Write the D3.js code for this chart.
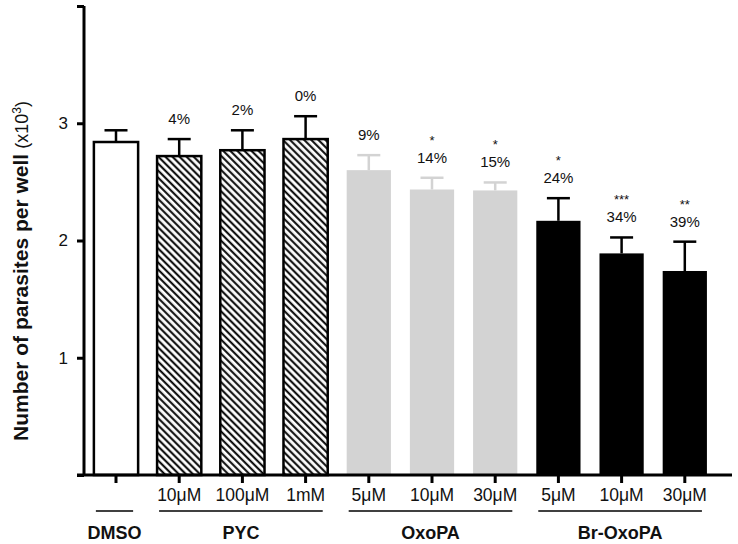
<!DOCTYPE html>
<html>
<head>
<meta charset="utf-8">
<script src="https://cdn.jsdelivr.net/npm/d3@7"></script>
<style>
  body { margin: 0; background: #fff; }
  text { font-family: "Liberation Sans", Arial, Helvetica, sans-serif; }
</style>
</head>
<body>
<div id="chart"></div>
<script>
// data
var categories = ['DMSO', 'PYC 10', 'PYC 100', 'PYC 1m', 'OxoPA 5', 'OxoPA 10', 'OxoPA 30', 'Br 5', 'Br 10', 'Br 30'];
var concLabels = ['', '10\u03bcM', '100\u03bcM', '1mM', '5\u03bcM', '10\u03bcM', '30\u03bcM', '5\u03bcM', '10\u03bcM', '30\u03bcM'];
var means = [2.84, 2.72, 2.77, 2.865, 2.60, 2.435, 2.427, 2.168, 1.89, 1.74];
var sems = [0.10, 0.145, 0.17, 0.195, 0.128, 0.10, 0.068, 0.193, 0.136, 0.25];
var pctLabels = ['', '4%', '2%', '0%', '9%', '14%', '15%', '24%', '34%', '39%'];
var stars = ['', '', '', '', '', '*', '*', '*', '***', '**'];
var styles = ['open', 'hatch', 'hatch', 'hatch', 'grey', 'grey', 'grey', 'black', 'black', 'black'];
var groupNames = ['DMSO', 'PYC', 'OxoPA', 'Br-OxoPA'];
var groupSizes = [1, 3, 3, 3];
var yTicks = [0, 1, 2, 3, 4];

var width = 738, height = 544;
var grey = '#d3d3d3';

var svg = d3.select('#chart')
    .append('svg')
    .attr('width', width)
    .attr('height', height);

var defs = svg.append('defs');
var pat = defs.append('pattern')
    .attr('id', 'hatch')
    .attr('patternUnits', 'userSpaceOnUse')
    .attr('width', 5)
    .attr('height', 5)
    .attr('patternTransform', 'rotate(-45)');
pat.append('rect').attr('width', 5).attr('height', 5).attr('fill', '#fff');
pat.append('line')
    .attr('x1', 1.2).attr('y1', 0).attr('x2', 1.2).attr('y2', 5)
    .attr('stroke', '#000').attr('stroke-width', 2);

var x = d3.scaleBand()
    .domain(categories)
    .range([84.4, 716.4])
    .paddingInner(0.3)
    .paddingOuter(0.15);

var y = d3.scaleLinear()
    .domain([0, 4])
    .range([475, 6]);

function fillOf(s) {
    if (s === 'open') return '#fff';
    if (s === 'hatch') return 'url(#hatch)';
    if (s === 'grey') return grey;
    return '#000';
}
function lineOf(s) { return s === 'grey' ? grey : '#000'; }

var rows = categories.map(function (c, i) {
    return { cat: c, mean: means[i], sem: sems[i], style: styles[i], pct: pctLabels[i], star: stars[i], conc: concLabels[i] };
});

// error bars (upper only)
var eb = svg.append('g').selectAll('g')
    .data(rows)
    .enter()
    .append('g')
    .attr('stroke', function (d) { return lineOf(d.style); })
    .attr('stroke-width', 2.5);
eb.append('line')
    .attr('x1', function (d) { return x(d.cat) + x.bandwidth() / 2; })
    .attr('x2', function (d) { return x(d.cat) + x.bandwidth() / 2; })
    .attr('y1', function (d) { return y(d.mean); })
    .attr('y2', function (d) { return y(d.mean + d.sem); });
eb.append('line')
    .attr('x1', function (d) { return x(d.cat) + x.bandwidth() / 2 - 11.5; })
    .attr('x2', function (d) { return x(d.cat) + x.bandwidth() / 2 + 11.5; })
    .attr('y1', function (d) { return y(d.mean + d.sem); })
    .attr('y2', function (d) { return y(d.mean + d.sem); });

// bars
svg.append('g')
    .selectAll('rect')
    .data(rows)
    .enter()
    .append('rect')
    .attr('x', function (d) { return x(d.cat); })
    .attr('y', function (d) { return y(d.mean); })
    .attr('width', x.bandwidth())
    .attr('height', function (d) { return y(0) - y(d.mean); })
    .attr('fill', function (d) { return fillOf(d.style); })
    .attr('stroke', function (d) { return (d.style === 'open' || d.style === 'hatch') ? '#000' : 'none'; })
    .attr('stroke-width', 2.5);

// percent labels and stars
var lab = svg.append('g').attr('text-anchor', 'middle').attr('fill', '#111');
lab.selectAll('text.pct')
    .data(rows)
    .enter()
    .append('text')
    .attr('class', 'pct')
    .attr('x', function (d) { return x(d.cat) + x.bandwidth() / 2; })
    .attr('y', function (d) { return y(d.mean + d.sem) - 15; })
    .attr('font-size', 15)
    .text(function (d) { return d.pct; });
lab.selectAll('text.star')
    .data(rows)
    .enter()
    .append('text')
    .attr('class', 'star')
    .attr('x', function (d) { return x(d.cat) + x.bandwidth() / 2; })
    .attr('y', function (d) { return y(d.mean + d.sem) - 33; })
    .attr('font-size', 13)
    .text(function (d) { return d.star; });

// y axis
var yAxis = svg.append('g')
    .attr('transform', 'translate(84,0)')
    .call(d3.axisLeft(y)
        .tickValues(yTicks)
        .tickSize(7)
        .tickFormat(function (d) { return (d >= 1 && d <= 3) ? d : ''; }));
yAxis.select('.domain').attr('stroke', '#000').attr('stroke-width', 3).attr('d', 'M0,' + y(4) + 'V' + y(0));
yAxis.selectAll('.tick line').attr('stroke', '#000').attr('stroke-width', 3);
yAxis.selectAll('.tick text')
    .attr('font-size', 17)
    .attr('font-family', '"Liberation Sans", Arial, sans-serif')
    .attr('fill', '#111')
    .attr('x', -16);

// x axis
var xAxis = svg.append('g')
    .attr('transform', 'translate(0,' + y(0) + ')')
    .call(d3.axisBottom(x).tickSize(8).tickSizeOuter(0).tickFormat(function (d, i) { return concLabels[i]; }));
xAxis.select('.domain').attr('stroke', '#000').attr('stroke-width', 3).attr('d', 'M77,0H732');
xAxis.selectAll('.tick line').attr('stroke', '#000').attr('stroke-width', 3);
xAxis.selectAll('.tick text')
    .attr('font-size', 17.5)
    .attr('font-family', '"Liberation Sans", Arial, sans-serif')
    .attr('fill', '#111')
    .attr('y', 14);

// group lines and names
var groups = [];
var start = 0;
groupNames.forEach(function (g, i) {
    groups.push({ name: g, first: categories[start], last: categories[start + groupSizes[i] - 1] });
    start += groupSizes[i];
});
var gg = svg.append('g').selectAll('g')
    .data(groups)
    .enter()
    .append('g');
gg.append('line')
    .attr('x1', function (d) { return x(d.first) + 2; })
    .attr('x2', function (d) { return x(d.last) + x.bandwidth() - 5; })
    .attr('y1', 511)
    .attr('y2', 511)
    .attr('stroke', '#000')
    .attr('stroke-width', 1.5);
gg.append('text')
    .attr('x', function (d) { return (x(d.first) + x(d.last) + x.bandwidth() - 3) / 2; })
    .attr('y', 539)
    .attr('text-anchor', 'middle')
    .attr('font-size', 18)
    .attr('font-weight', 'bold')
    .attr('fill', '#111')
    .text(function (d) { return d.name; });

// y title
var yt = svg.append('text')
    .attr('transform', 'translate(28,271) rotate(-90)')
    .attr('text-anchor', 'middle')
    .attr('font-size', 21)
    .attr('fill', '#111');
yt.append('tspan').attr('font-weight', 'bold').text('Number of parasites per well');
yt.append('tspan').attr('font-size', 18).text(' (x10');
yt.append('tspan').attr('font-size', 12).attr('baseline-shift', 'super').text('3');
yt.append('tspan').attr('font-size', 18).text(')');
</script>
</body>
</html>
